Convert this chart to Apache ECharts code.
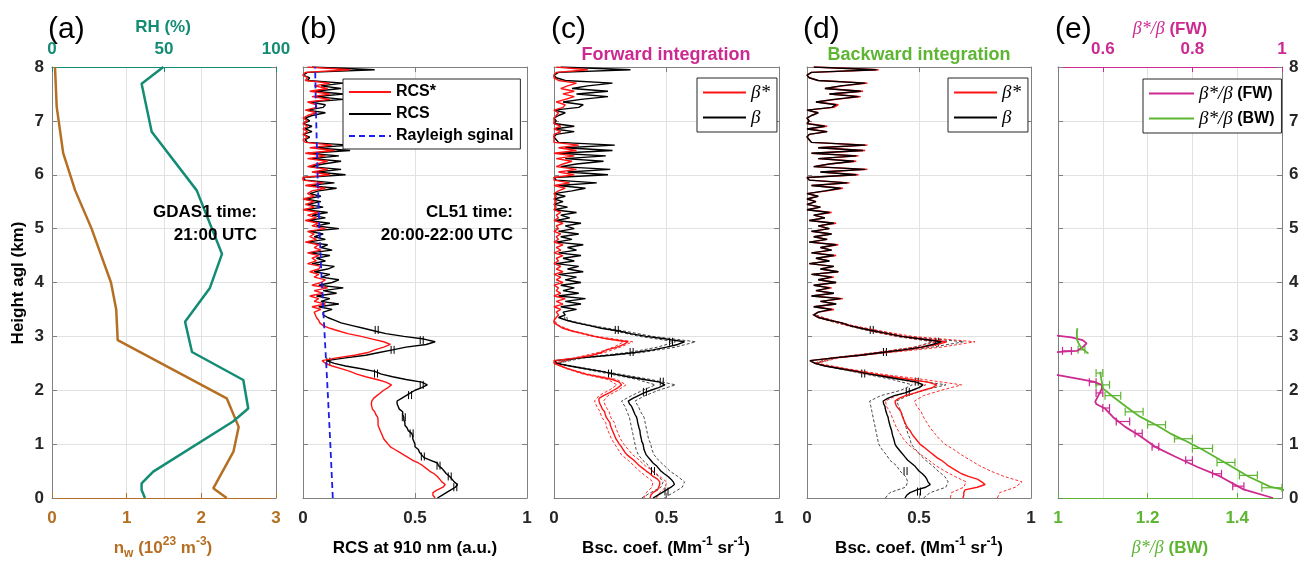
<!DOCTYPE html>
<html>
<head>
<meta charset="utf-8">
<title>Lidar profiles</title>
<script src="https://cdn.jsdelivr.net/npm/echarts@6/dist/echarts.min.js"></script>
<style>
  html, body { margin: 0; padding: 0; background: #fff; }
  #chart { width: 1311px; height: 562px; }
</style>
</head>
<body>
<div id="chart"></div>
<script>
// ---------- data ----------
// height grid of the CL51 profiles (km)
const hFine = [
  0,0.05,0.1,0.15,0.2,0.25,0.3,0.35,0.4,0.45,
  0.5,0.55,0.6,0.65,0.7,0.75,0.8,0.85,0.9,0.95,
  1,1.05,1.1,1.15,1.2,1.25,1.3,1.35,1.4,1.45,
  1.5,1.55,1.6,1.65,1.7,1.75,1.8,1.85,1.9,1.95,
  2,2.05,2.1,2.15,2.2,2.25,2.3,2.35,2.4,2.45,
  2.5,2.55,2.6,2.65,2.7,2.75,2.8,2.85,2.9,2.95,
  3,3.05,3.1,3.15,3.2,3.25,3.3,3.35,3.4,3.45,
  3.5,3.55,3.6,3.65,3.7,3.75,3.8,3.85,3.9,3.95,
  4,4.05,4.1,4.15,4.2,4.25,4.3,4.35,4.4,4.45,
  4.5,4.55,4.6,4.65,4.7,4.75,4.8,4.85,4.9,4.95,
  5,5.05,5.1,5.15,5.2,5.25,5.3,5.35,5.4,5.45,
  5.5,5.55,5.6,5.65,5.7,5.75,5.8,5.85,5.9,5.95,
  6,6.05,6.1,6.15,6.2,6.25,6.3,6.35,6.4,6.45,
  6.5,6.55,6.6,6.65,6.7,6.75,6.8,6.85,6.9,6.95,
  7,7.05,7.1,7.15,7.2,7.25,7.3,7.35,7.4,7.45,
  7.5,7.55,7.6,7.65,7.7,7.75,7.8,7.85,7.9,7.95,
  8
];
// height grid of the uncertainty bounds (km)
const hBand = [0,0.1,0.2,0.3,0.4,0.5,0.6,0.7,0.8,0.9,1,1.1,1.2,1.3,1.4,1.5,1.6,1.7,1.8,1.9,
  2,2.1,2.2,2.3,2.4,2.5,2.6,2.7,2.8,2.9,3,3.1,3.2,3.3,3.4];
const hKm = [0,1,2,3,4,5,6,7,8];

// (a) GDAS1 21:00 UTC
const hNw = [0, 0.18, 0.86, 1.32, 1.85, 2.93, 3.5, 4.0, 4.5, 5.0, 5.71, 6.4, 7.26, 8];
const nw  = [2.34, 2.16, 2.43, 2.50, 2.34, 0.88, 0.86, 0.79, 0.66, 0.53, 0.31, 0.15, 0.063, 0.04];
const hRh = [0, 0.15, 0.27, 0.49, 1.42, 1.66, 2.19, 2.71, 3.27, 3.9, 4.53, 5.71, 6.8, 7.69, 8];
const rh  = [41.5, 40, 40, 45.2, 80.8, 87.6, 85.4, 62.5, 59.4, 70.5, 75.9, 64.6, 44.5, 40, 49.7];

// (b) range-corrected signals
const rcs = [
  0.60,0.62,0.64,0.66,0.68,0.69,0.675,0.665,0.655,0.64,
  0.63,0.62,0.605,0.60,0.57,0.54,0.53,0.52,0.515,0.50,
  0.50,0.495,0.49,0.49,0.485,0.47,0.465,0.455,0.455,0.45,
  0.45,0.445,0.445,0.43,0.425,0.42,0.42,0.44,0.46,0.48,
  0.50,0.53,0.555,0.53,0.46,0.40,0.35,0.32,0.26,0.19,
  0.14,0.105,0.19,0.28,0.34,0.40,0.46,0.55,0.59,0.54,
  0.45,0.37,0.32,0.27,0.22,0.17,0.14,0.11,0.09,
  0.09,0.13,0.07,0.16,0.08,0.12,0.06,0.15,0.09,0.18,
  0.07,0.13,0.16,0.08,0.12,0.05,0.11,0.14,0.04,0.10,
  0.06,0.12,0.03,0.13,0.08,0.11,0.02,0.10,0.05,0.09,
  0.03,0.16,0.06,0.12,0.02,0.10,0.04,0.11,0.01,0.09,
  0.02,0.08,0.01,0.08,0.03,0.07,0.15,0.02,0.14,0.01,
  0.00,0.19,0.06,0.17,0.03,0.09,0.17,0.04,0.16,0.02,
  0.21,0.05,0.21,0.02,0.01,0.03,0.00,0.04,0.01,0.04,
  0.00,0.03,0.01,0.04,0.10,0.02,0.09,0.10,0.03,0.18,
  0.06,0.18,0.05,0.17,0.08,0.18,0.02,0.03,0.00,0.02,
  0.32,0.04
];
const rcsStar = [
  0.59,0.58,0.58,0.60,0.625,0.635,0.62,0.61,0.60,0.585,
  0.565,0.55,0.535,0.515,0.49,0.47,0.45,0.43,0.41,0.39,
  0.38,0.37,0.36,0.355,0.35,0.345,0.34,0.335,0.335,0.335,
  0.333,0.325,0.32,0.31,0.307,0.305,0.307,0.315,0.33,0.345,
  0.36,0.38,0.395,0.37,0.33,0.28,0.24,0.21,0.17,0.13,
  0.10,0.085,0.15,0.23,0.29,0.32,0.36,0.39,0.36,0.31,
  0.26,0.20,0.16,0.12,0.09,0.075,0.07,0.06,0.055,
  0.05,0.08,0.04,0.10,0.05,0.07,0.03,0.09,0.05,0.11,
  0.04,0.08,0.10,0.05,0.07,0.03,0.07,0.08,0.02,0.06,
  0.04,0.07,0.02,0.08,0.05,0.07,0.01,0.06,0.03,0.05,
  0.02,0.10,0.04,0.07,0.01,0.06,0.02,0.07,0.00,0.05,
  0.01,0.05,0.00,0.05,0.02,0.04,0.10,0.01,0.09,0.00,
  0.00,0.12,0.04,0.11,0.02,0.06,0.11,0.02,0.10,0.01,
  0.14,0.03,0.13,0.01,0.00,0.02,0.00,0.02,0.00,0.02,
  0.00,0.02,0.00,0.02,0.06,0.01,0.06,0.06,0.02,0.12,
  0.04,0.12,0.03,0.11,0.05,0.12,0.01,0.02,0.00,0.01,
  0.21,0.02
];
const rayleigh = [0.133, 0.122, 0.110, 0.097, 0.084, 0.073, 0.065, 0.059, 0.054];
const rcsMarkX = [0.329, 0.53, 0.40, 0.113, 0.326, 0.53, 0.478, 0.45, 0.485, 0.535, 0.605, 0.655, 0.68];
const rcsMarkH = [3.12, 2.93, 2.75, 2.53, 2.31, 2.10, 1.91, 1.5, 1.2, 0.77, 0.6, 0.4, 0.2];

// (c) forward integration
const fwBeta = [
  0.44,0.46,0.48,0.50,0.52,0.535,0.53,0.52,0.507,0.49,
  0.475,0.465,0.455,0.44,0.43,0.42,0.41,0.405,0.40,0.398,
  0.396,0.39,0.388,0.385,0.383,0.382,0.378,0.375,0.372,0.37,
  0.367,0.36,0.355,0.35,0.345,0.335,0.33,0.35,0.375,0.40,
  0.43,0.465,0.493,0.47,0.40,0.33,0.27,0.21,0.14,0.07,
  0.012,0.005,0.12,0.25,0.36,0.44,0.50,0.55,0.58,0.50,
  0.41,0.34,0.29,0.21,0.16,0.10,0.056,0.02,0.05,
  0.04,0.10,0.03,0.12,0.05,0.14,0.02,0.11,0.04,0.09,
  0.03,0.12,0.05,0.10,0.02,0.13,0.06,0.11,0.01,0.09,
  0.04,0.12,0.02,0.10,0.06,0.13,0.01,0.08,0.03,0.11,
  0.02,0.09,0.05,0.12,0.01,0.07,0.03,0.10,0.00,0.06,
  0.00,0.04,0.00,0.05,0.00,0.08,0.14,0.02,0.19,0.01,
  0.00,0.24,0.06,0.25,0.03,0.10,0.22,0.05,0.23,0.02,
  0.26,0.05,0.27,0.02,0.01,0.00,0.01,0.09,0.00,0.09,
  0.00,0.01,0.00,0.02,0.05,0.00,0.11,0.13,0.04,0.12,
  0.24,0.10,0.24,0.08,0.15,0.26,0.05,0.01,0.00,0.02,
  0.34,0.03
];
const fwBetaStar = [
  0.427,0.43,0.44,0.46,0.465,0.47,0.47,0.46,0.44,0.427,
  0.41,0.395,0.38,0.367,0.355,0.34,0.325,0.315,0.307,0.30,
  0.29,0.283,0.275,0.27,0.265,0.26,0.255,0.25,0.249,0.24,
  0.232,0.228,0.225,0.215,0.21,0.204,0.20,0.20,0.22,0.245,
  0.265,0.285,0.30,0.29,0.26,0.20,0.14,0.10,0.06,0.03,
  0.0,0.0,0.10,0.17,0.21,0.234,0.28,0.31,0.33,0.24,
  0.18,0.13,0.08,0.04,0.02,0.0,0.0,0.01,0.02,
  0.01,0.03,0.00,0.04,0.01,0.05,0.00,0.03,0.01,0.02,
  0.00,0.04,0.01,0.03,0.00,0.04,0.01,0.03,0.00,0.02,
  0.01,0.04,0.00,0.03,0.01,0.04,0.00,0.02,0.01,0.03,
  0.00,0.02,0.01,0.04,0.00,0.02,0.01,0.03,0.00,0.01,
  0.00,0.01,0.00,0.01,0.00,0.02,0.05,0.00,0.07,0.00,
  0.00,0.09,0.02,0.10,0.01,0.04,0.08,0.01,0.09,0.00,
  0.10,0.02,0.11,0.00,0.00,0.00,0.00,0.03,0.00,0.03,
  0.00,0.00,0.00,0.01,0.02,0.00,0.04,0.05,0.01,0.05,
  0.09,0.04,0.09,0.03,0.06,0.10,0.02,0.00,0.00,0.01,
  0.15,0.01
];
const fwBetaLo = [0.39,0.43,0.475,0.485,0.465,0.435,0.42,0.395,0.375,0.365, 0.36,0.355,0.35,0.345,0.34,0.335,0.325,0.315,0.30,0.345,
  0.395,0.45,0.37,0.25,0.13,0.01,0.11,0.33,0.46,0.54, 0.38,0.27,0.15,0.05,0.045];
const fwBetaHi = [0.49,0.53,0.57,0.58,0.55,0.515,0.49,0.465,0.445,0.435, 0.43,0.42,0.415,0.41,0.405,0.40,0.385,0.375,0.36,0.405,
  0.465,0.54,0.43,0.29,0.15,0.015,0.13,0.39,0.54,0.63, 0.44,0.31,0.17,0.06,0.055];
const fwStarLo = [0.40,0.41,0.435,0.44,0.41,0.38,0.355,0.33,0.30,0.285, 0.27,0.255,0.245,0.235,0.23,0.212,0.205,0.19,0.18,0.20,
  0.245,0.28,0.24,0.13,0.055,0.0,0.09,0.195,0.265,0.31, 0.17,0.075,0.018,0.0,0.018];
const fwStarHi = [0.455,0.47,0.495,0.50,0.47,0.44,0.405,0.38,0.35,0.33, 0.31,0.295,0.285,0.275,0.268,0.252,0.245,0.23,0.22,0.24,
  0.285,0.32,0.28,0.15,0.065,0.0,0.11,0.225,0.295,0.35, 0.19,0.085,0.022,0.0,0.022];
const fwMarkX = [0.279, 0.52, 0.345, 0.249, 0.479, 0.404, 0.50, 0.44];
const fwMarkH = [3.12, 2.9, 2.71, 2.31, 2.16, 1.97, 0.12, 0.5];

// (d) backward integration
const bwBeta = [
  0.4375,0.445,0.46,0.49,0.53,0.55,0.54,0.535,0.527,0.515,
  0.50,0.49,0.48,0.465,0.45,0.44,0.43,0.42,0.41,0.40,
  0.393,0.39,0.387,0.383,0.38,0.378,0.374,0.37,0.367,0.364,
  0.362,0.357,0.353,0.35,0.348,0.342,0.34,0.36,0.39,0.4375,
  0.47,0.50,0.518,0.49,0.42,0.35,0.28,0.22,0.15,0.08,
  0.036,0.013,0.12,0.24,0.333,0.43,0.51,0.56,0.60,0.51,
  0.42,0.36,0.30,0.24,0.19,0.155,0.10,0.05,0.03,
  0.05,0.11,0.03,0.13,0.06,0.15,0.02,0.12,0.04,0.10,
  0.03,0.13,0.05,0.11,0.02,0.14,0.06,0.12,0.01,0.10,
  0.04,0.12,0.02,0.11,0.06,0.13,0.01,0.09,0.03,0.11,
  0.02,0.10,0.05,0.12,0.01,0.08,0.03,0.10,0.00,0.06,
  0.00,0.04,0.00,0.05,0.00,0.08,0.15,0.02,0.18,0.01,
  0.00,0.22,0.06,0.26,0.03,0.10,0.21,0.05,0.22,0.02,
  0.25,0.05,0.26,0.02,0.01,0.00,0.01,0.09,0.00,0.08,
  0.00,0.01,0.00,0.02,0.05,0.00,0.11,0.13,0.04,0.12,
  0.23,0.10,0.24,0.08,0.15,0.26,0.05,0.01,0.00,0.02,
  0.31,0.03
];
const bwBetaStar = [
  0.696,0.70,0.70,0.705,0.76,0.795,0.78,0.76,0.72,0.69,
  0.67,0.65,0.63,0.616,0.60,0.58,0.565,0.55,0.535,0.52,
  0.504,0.495,0.485,0.475,0.467,0.46,0.45,0.443,0.4375,0.432,
  0.427,0.423,0.42,0.41,0.40,0.395,0.393,0.41,0.44,0.482,
  0.52,0.56,0.579,0.54,0.46,0.38,0.30,0.23,0.16,0.085,
  0.038,0.013,0.12,0.24,0.333,0.44,0.52,0.58,0.624,0.52,
  0.43,0.365,0.305,0.245,0.19,0.155,0.10,0.05,0.03,
  0.05,0.12,0.03,0.13,0.06,0.16,0.02,0.12,0.04,0.11,
  0.03,0.13,0.05,0.12,0.02,0.14,0.06,0.12,0.01,0.10,
  0.04,0.13,0.02,0.11,0.06,0.14,0.01,0.09,0.03,0.11,
  0.02,0.10,0.05,0.13,0.01,0.08,0.03,0.11,0.00,0.06,
  0.00,0.04,0.00,0.05,0.00,0.09,0.16,0.02,0.19,0.01,
  0.00,0.23,0.06,0.27,0.03,0.10,0.22,0.05,0.23,0.02,
  0.26,0.05,0.27,0.02,0.01,0.00,0.01,0.09,0.00,0.09,
  0.00,0.01,0.00,0.02,0.05,0.00,0.12,0.14,0.04,0.13,
  0.24,0.10,0.25,0.08,0.16,0.27,0.05,0.01,0.00,0.02,
  0.32,0.03
];
const bwBetaLo = [0.35,0.37,0.44,0.45,0.44,0.415,0.40,0.37,0.355,0.335, 0.32,0.315,0.31,0.305,0.30,0.295,0.29,0.285,0.28,0.33,
  0.42,0.47,0.38,0.26,0.14,0.03,0.11,0.31,0.48,0.56, 0.40,0.28,0.18,0.09,0.025];
const bwBetaHi = [0.52,0.55,0.62,0.63,0.615,0.585,0.56,0.53,0.505,0.485, 0.465,0.46,0.45,0.443,0.435,0.43,0.42,0.41,0.40,0.45,
  0.52,0.62,0.46,0.30,0.16,0.04,0.13,0.355,0.56,0.70, 0.44,0.32,0.20,0.11,0.035];
const bwStarLo = [0.64,0.645,0.70,0.71,0.66,0.615,0.575,0.545,0.51,0.48, 0.45,0.43,0.415,0.40,0.39,0.38,0.37,0.355,0.35,0.40,
  0.47,0.53,0.42,0.27,0.145,0.034,0.11,0.31,0.48,0.58, 0.40,0.285,0.18,0.09,0.025];
const bwStarHi = [0.85,0.86,0.93,0.96,0.88,0.82,0.77,0.73,0.69,0.655, 0.615,0.59,0.57,0.55,0.535,0.52,0.51,0.49,0.48,0.52,
  0.60,0.69,0.52,0.33,0.18,0.045,0.14,0.37,0.60,0.75, 0.47,0.33,0.205,0.11,0.035];
const bwMarkX = [0.289, 0.58, 0.348, 0.251, 0.49, 0.45, 0.50, 0.44];
const bwMarkH = [3.12, 2.9, 2.71, 2.31, 2.16, 1.97, 0.12, 0.5];

// (e) ratios
const hFwLow = [0, 0.16, 0.4, 0.58, 0.77, 0.95, 1.15, 1.32, 1.5, 1.66, 1.74, 1.79, 1.9, 2.03, 2.1, 2.16, 2.22, 2.28, 2.34];
const fwRatioLow = [0.98, 0.914, 0.862, 0.81, 0.761, 0.717, 0.683, 0.65, 0.623, 0.605, 0.586, 0.583, 0.59, 0.598, 0.598, 0.579, 0.54, 0.50, 0.46];
const hFwUp = [3.02, 2.98, 2.93, 2.87, 2.8, 2.73, 2.72, 2.70];
const fwRatioUp = [0.49, 0.53, 0.555, 0.564, 0.555, 0.542, 0.52, 0.48];
const hBwLow = [0.05, 0.16, 0.21, 0.4, 0.64, 0.89, 1.08, 1.2, 1.35, 1.51, 1.69, 1.88, 2.03, 2.19, 2.34];
const bwRatioLow = [1.53, 1.5, 1.473, 1.425, 1.376, 1.324, 1.28, 1.25, 1.22, 1.183, 1.153, 1.123, 1.101, 1.097, 1.094];
const hBwUp = [3.15, 3.05, 2.93, 2.85, 2.78, 2.68];
const bwRatioUp = [1.043, 1.042, 1.043, 1.047, 1.053, 1.068];
const bwErrH  = [0.19, 0.42, 0.66, 0.92, 1.1, 1.36, 1.6, 1.9, 2.1, 2.32, 2.75];
const bwErrLo = [1.455, 1.405, 1.355, 1.30, 1.26, 1.20, 1.15, 1.105, 1.085, 1.085, 1.045];
const bwErrHi = [1.50, 1.445, 1.395, 1.345, 1.30, 1.24, 1.19, 1.14, 1.115, 1.10, 1.06];
const fwErrH  = [0.22, 0.45, 0.7, 0.95, 1.2, 1.42, 1.67, 1.95, 2.15, 2.73];
const fwErrLo = [0.89, 0.845, 0.785, 0.71, 0.672, 0.63, 0.60, 0.585, 0.57, 0.51];
const fwErrHi = [0.915, 0.865, 0.80, 0.725, 0.688, 0.66, 0.615, 0.60, 0.585, 0.53];

// ---------- styles ----------
const FONT = '"Liberation Sans", Arial, sans-serif';
const SERIF = '"Liberation Serif", "DejaVu Serif", serif';
const GRAY = '#808080';
const DARK = '#262626';
const TEAL = '#148c74';
const BROWN = '#b56f22';
const MAG = '#cc2a90';
const GREEN = '#5db531';
const RED = '#ff1414';
const BLUE = '#1c1cf0';

const lefts = [52, 303, 554, 807, 1058];
const widths = [224, 224, 225, 224, 224];

function axisLook(color) {
  return {
    axisLine: { show: true, onZero: false, lineStyle: { color: color, width: 1 } },
    axisTick: { show: true, inside: true, length: 5, lineStyle: { color: color } }
  };
}
function lbl(color, margin) {
  return { show: true, color: color, fontSize: 17, fontWeight: 'bold', fontFamily: FONT, margin: margin };
}
const split = { show: true, lineStyle: { color: '#e2e2e2', width: 1 } };
const noSplit = { show: false };

const xAxes = [];
const yAxes = [];
// (a)
xAxes.push(Object.assign({ type: 'value', gridIndex: 0, position: 'bottom', min: 0, max: 3, interval: 1,
  axisLabel: lbl(BROWN, 12), splitLine: split }, axisLook(BROWN)));
xAxes.push(Object.assign({ type: 'value', gridIndex: 0, position: 'top', min: 0, max: 100, interval: 50,
  axisLabel: lbl(TEAL, 9), splitLine: split }, axisLook(TEAL)));
// (b)-(d)
for (let g = 1; g <= 3; g++) {
  xAxes.push(Object.assign({ type: 'value', gridIndex: g, position: 'bottom', min: 0, max: 1, interval: 0.5,
    axisLabel: lbl(DARK, 12), splitLine: split }, axisLook(GRAY)));
  xAxes.push(Object.assign({ type: 'value', gridIndex: g, position: 'top', min: 0, max: 1, interval: 0.5,
    axisLabel: { show: false }, splitLine: noSplit }, axisLook(GRAY)));
}
// (e)
const eBwTicks = [1, 1.2, 1.4];
const eFwTicks = [0.6, 0.8, 1];
xAxes.push({ type: 'value', gridIndex: 4, position: 'bottom', min: 1, max: 1.5,
  axisLine: { show: true, onZero: false, lineStyle: { color: GREEN } },
  axisTick: { show: true, inside: true, length: 5, lineStyle: { color: GREEN }, customValues: eBwTicks },
  axisLabel: Object.assign(lbl(GREEN, 12), { customValues: eBwTicks }), splitLine: split });
xAxes.push({ type: 'value', gridIndex: 4, position: 'top', min: 0.5, max: 1,
  axisLine: { show: true, onZero: false, lineStyle: { color: MAG } },
  axisTick: { show: true, inside: true, length: 5, lineStyle: { color: MAG }, customValues: eFwTicks },
  axisLabel: Object.assign(lbl(MAG, 9), { customValues: eFwTicks }), splitLine: split });

for (let g = 0; g < 5; g++) {
  yAxes.push(Object.assign({ type: 'value', gridIndex: g, position: 'left', min: 0, max: 8, interval: 1,
    axisLabel: g === 0 ? lbl(DARK, 8) : { show: false }, splitLine: split }, axisLook(GRAY)));
  yAxes.push(Object.assign({ type: 'value', gridIndex: g, position: 'right', min: 0, max: 8, interval: 1,
    axisLabel: g === 4 ? lbl(DARK, 7) : { show: false }, splitLine: noSplit }, axisLook(GRAY)));
}

function pts(xs, hs) {
  return hs.map(function (h, k) { return [xs[k], h]; });
}
function prof(name, xs, hs, g, top, color, width, dash) {
  return {
    type: 'line', name: name, xAxisIndex: 2 * g + (top ? 1 : 0), yAxisIndex: 2 * g,
    data: pts(xs, hs), symbol: 'none', clip: true,
    lineStyle: { color: color, width: width, type: dash || 'solid' },
    itemStyle: { color: color }
  };
}
// horizontal error bars with end caps (panel e)
function errBars(los, his, hs, g, top, color) {
  return {
    type: 'custom', xAxisIndex: 2 * g + (top ? 1 : 0), yAxisIndex: 2 * g, silent: true, clip: true,
    data: hs.map(function (h, k) { return [los[k], his[k], h]; }),
    encode: { x: [0, 1], y: 2 },
    renderItem: function (params, api) {
      const a = api.coord([api.value(0), api.value(2)]);
      const b = api.coord([api.value(1), api.value(2)]);
      const st = { stroke: color, lineWidth: 1.2 };
      return { type: 'group', children: [
        { type: 'line', shape: { x1: a[0], y1: a[1], x2: b[0], y2: b[1] }, style: st },
        { type: 'line', shape: { x1: a[0], y1: a[1] - 4, x2: a[0], y2: a[1] + 4 }, style: st },
        { type: 'line', shape: { x1: b[0], y1: b[1] - 4, x2: b[0], y2: b[1] + 4 }, style: st }
      ] };
    }
  };
}
// tiny error marks "||" sitting on the lidar profiles
function marks(xs, hs, g, color) {
  return {
    type: 'custom', xAxisIndex: 2 * g, yAxisIndex: 2 * g, silent: true, clip: true, z: 3,
    data: hs.map(function (h, k) { return [xs[k], h]; }),
    encode: { x: 0, y: 1 },
    renderItem: function (params, api) {
      const p = api.coord([api.value(0), api.value(1)]);
      const st = { stroke: color, lineWidth: 1 };
      return { type: 'group', children: [
        { type: 'line', shape: { x1: p[0] - 1.5, y1: p[1] - 4, x2: p[0] - 1.5, y2: p[1] + 4 }, style: st },
        { type: 'line', shape: { x1: p[0] + 1.5, y1: p[1] - 4, x2: p[0] + 1.5, y2: p[1] + 4 }, style: st }
      ] };
    }
  };
}

const series = [
  prof('nw', nw, hNw, 0, false, BROWN, 2.5),
  prof('RH', rh, hRh, 0, true, TEAL, 2.5),

  prof('RCS', rcs, hFine, 1, false, '#000', 1.4),
  prof('RCS*', rcsStar, hFine, 1, false, RED, 1.4),
  prof('Rayleigh sginal', rayleigh, hKm, 1, false, BLUE, 1.8, [6, 4]),
  marks(rcsMarkX, rcsMarkH, 1, '#000'),

  prof('fw b lo', fwBetaLo, hBand, 2, false, '#333', 0.9, [3, 2]),
  prof('fw b hi', fwBetaHi, hBand, 2, false, '#333', 0.9, [3, 2]),
  prof('fw s lo', fwStarLo, hBand, 2, false, RED, 0.9, [3, 2]),
  prof('fw s hi', fwStarHi, hBand, 2, false, RED, 0.9, [3, 2]),
  prof('β', fwBeta, hFine, 2, false, '#000', 1.4),
  prof('β*', fwBetaStar, hFine, 2, false, RED, 1.4),
  marks(fwMarkX, fwMarkH, 2, '#000'),

  prof('bw b lo', bwBetaLo, hBand, 3, false, '#333', 0.9, [3, 2]),
  prof('bw b hi', bwBetaHi, hBand, 3, false, '#333', 0.9, [3, 2]),
  prof('bw s lo', bwStarLo, hBand, 3, false, RED, 0.9, [3, 2]),
  prof('bw s hi', bwStarHi, hBand, 3, false, RED, 0.9, [3, 2]),
  prof('β*', bwBetaStar, hFine, 3, false, RED, 1.4),
  prof('β', bwBeta, hFine, 3, false, '#000', 1.4),
  marks(bwMarkX, bwMarkH, 3, '#000'),

  prof('β*/β (FW)', fwRatioLow, hFwLow, 4, true, MAG, 1.8),
  prof('β*/β (FW)', fwRatioUp, hFwUp, 4, true, MAG, 1.8),
  prof('β*/β (BW)', bwRatioLow, hBwLow, 4, false, GREEN, 1.8),
  prof('β*/β (BW)', bwRatioUp, hBwUp, 4, false, GREEN, 1.8),
  errBars(fwErrLo, fwErrHi, fwErrH, 4, true, MAG),
  errBars(bwErrLo, bwErrHi, bwErrH, 4, false, GREEN)
];

function legendBox(left, top, names, itemWidth, fmt) {
  return {
    left: left, top: top, orient: 'vertical', data: names, selectedMode: false,
    itemWidth: itemWidth, itemHeight: 12, itemGap: 6, padding: [5, 7, 5, 5],
    borderColor: DARK, borderWidth: 1, backgroundColor: '#fff', borderRadius: 0,
    itemStyle: { opacity: 0, borderWidth: 0 },   // line only, no marker
    formatter: fmt,
    textStyle: {
      color: '#000', fontSize: 16, fontWeight: 'bold', fontFamily: FONT,
      rich: {
        i: { fontStyle: 'italic', fontWeight: 'normal', fontFamily: SERIF, fontSize: 19, color: '#000' },
        b: { fontWeight: 'bold', fontFamily: FONT, fontSize: 16, color: '#000' }
      }
    }
  };
}
const betaFmt = function (n) { return '{i|' + n + '}'; };
const ratioFmt = function (n) { return '{i|β*/β} {b|' + n.split(' ')[1] + '}'; };

function txt(x, y, text, extra) {
  return {
    type: 'text', x: x, y: y, silent: true, z: 100,
    style: Object.assign({
      text: text, font: 'bold 17px ' + FONT, fill: '#000',
      textAlign: 'center', textVerticalAlign: 'middle', align: 'center', verticalAlign: 'middle'
    }, extra || {})
  };
}
function richStyles(color) {
  return {
    b: { fontSize: 17, fontWeight: 'bold', fontFamily: FONT, fill: color, lineHeight: 24 },
    p: { fontSize: 12, fontWeight: 'bold', fontFamily: FONT, fill: color, lineHeight: 12, verticalAlign: 'top' },
    s: { fontSize: 12, fontWeight: 'bold', fontFamily: FONT, fill: color, lineHeight: 12, verticalAlign: 'bottom' },
    i: { fontSize: 18, fontStyle: 'italic', fontFamily: SERIF, fill: color, lineHeight: 24 }
  };
}

const graphic = [
  txt(48, 30, '(a)', { font: '30px ' + FONT, textAlign: 'left', align: 'left' }),
  txt(300, 30, '(b)', { font: '30px ' + FONT, textAlign: 'left', align: 'left' }),
  txt(551, 30, '(c)', { font: '30px ' + FONT, textAlign: 'left', align: 'left' }),
  txt(803, 30, '(d)', { font: '30px ' + FONT, textAlign: 'left', align: 'left' }),
  txt(1055, 30, '(e)', { font: '30px ' + FONT, textAlign: 'left', align: 'left' }),
  txt(163, 27, 'RH (%)', { fill: TEAL }),
  txt(666, 55, 'Forward integration', { fill: MAG, font: 'bold 18px ' + FONT }),
  txt(919, 55, 'Backward integration', { fill: GREEN, font: 'bold 18px ' + FONT }),
  txt(1170, 29, '{i|β*/β} {b|(FW)}', { rich: richStyles(MAG) }),
  txt(257, 212, 'GDAS1 time:', { textAlign: 'right', align: 'right' }),
  txt(257, 235, '21:00 UTC', { textAlign: 'right', align: 'right' }),
  txt(513, 212, 'CL51 time:', { textAlign: 'right', align: 'right' }),
  txt(513, 235, '20:00-22:00 UTC', { textAlign: 'right', align: 'right' }),
  txt(163, 548, '{b|n}{s|w}{b| (10}{p|23}{b| m}{p|-3}{b|)}', { rich: richStyles(BROWN) }),
  txt(415, 548, 'RCS at 910 nm (a.u.)'),
  txt(666, 548, '{b|Bsc. coef. (Mm}{p|-1}{b| sr}{p|-1}{b|)}', { rich: richStyles('#000') }),
  txt(919, 548, '{b|Bsc. coef. (Mm}{p|-1}{b| sr}{p|-1}{b|)}', { rich: richStyles('#000') }),
  txt(1170, 548, '{i|β*/β} {b|(BW)}', { rich: richStyles(GREEN) }),
  Object.assign(txt(18, 283, 'Height agl (km)'), { rotation: Math.PI / 2 })
];

const chart = echarts.init(document.getElementById('chart'), null, { renderer: 'canvas' });
chart.setOption({
  animation: false,
  backgroundColor: '#fff',
  grid: lefts.map(function (l, i) { return { left: l, top: 67, width: widths[i], height: 431 }; }),
  xAxis: xAxes,
  yAxis: yAxes,
  legend: [
    legendBox(343, 79, ['RCS*', 'RCS', 'Rayleigh sginal'], 42),
    legendBox(697, 78, ['β*', 'β'], 43, betaFmt),
    legendBox(948, 78, ['β*', 'β'], 43, betaFmt),
    legendBox(1143, 79, ['β*/β (FW)', 'β*/β (BW)'], 45, ratioFmt)
  ],
  graphic: graphic,
  series: series
});
</script>
</body>
</html>
